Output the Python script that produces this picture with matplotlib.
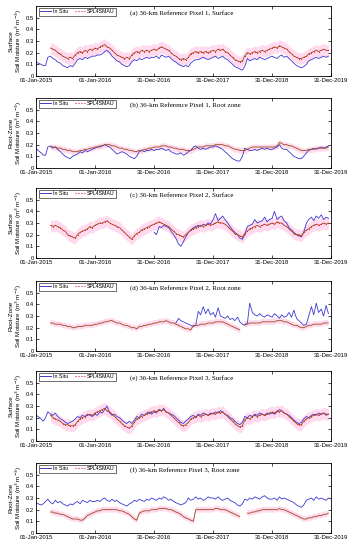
import matplotlib.pyplot as plt
from matplotlib.lines import Line2D
import numpy as np
import pandas as pd

nan = np.nan

# semi-monthly samples (1st and 15th of each month), 2015-2019, values in 0.01 m3/m3
dates = pd.date_range('2015-01-01', periods=120, freq='SMS')

ins1 = [12, 11, 10, 9, 9, 16, 17, 15, 14, 12, 11, 9, 8, 7, 9, 8, 11, 14, 15, 14, 16, 15, 16, 17,
        17, 18, 18, 19, 21, 22, 20, 17, 15, 13, 12, 10, 9, 8, 9, 12, 14, 13, 15, 14, 15, 16, 15, 16,
        16, 17, 15, 18, 17, 16, 17, 15, 13, 12, 10, 9, 8, 9, 8, 11, 13, 14, 14, 15, 16, 15, 14, 15,
        16, 17, 15, 16, 17, 15, 14, 12, 10, 8, 7, 6, 5, 8, 15, 13, 14, 15, 14, 16, 15, 14, 15, 16,
        17, 16, 15, 17, 18, 16, 17, 15, 13, 11, 9, 8, 7, 8, 10, 13, 14, 15, 16, 15, 16, 17, 16, 17]
sm1 = [nan, nan, nan, nan, nan, nan, 24, 23, 22, 20, 19, 17, 16, 15, 16, 15, 18, 20, 21, 20, 22, 21, 23, 22,
       24, 23, 25, 26, 27, 25, 24, 22, 20, 18, 17, 16, 15, 16, 15, 18, 20, 21, 20, 22, 21, 22, 21, 22,
       23, 22, 24, 25, 24, 23, 22, 20, 18, 17, 15, 14, 15, 14, 16, 19, 20, 21, 20, 21, 20, 21, 20, 21,
       22, 21, 23, 22, 23, 21, 20, 18, 16, 14, 13, 12, 13, 17, 20, 19, 20, 21, 20, 21, 22, 21, 22, 23,
       24, 25, 24, 26, 25, 24, 23, 21, 19, 17, 16, 15, 15, 16, 17, 19, 20, 21, 22, 21, 22, 23, 22, 22]

ins2 = [17, 15, 13, 11, 11, 18, 19, 17, 18, 16, 14, 12, 10, 9, 8, 10, 11, 12, 14, 13, 15, 14, 15, 16,
        17, 18, 18, 19, 20, 19, 18, 16, 14, 12, 13, 14, 13, 12, 10, 9, 8, 10, 14, 15, 14, 15, 15, 16,
        15, 16, 16, 17, 16, 15, 16, 14, 13, 12, 12, 13, 11, 12, 14, 15, 18, 19, 17, 16, 17, 16, 17, 18,
        18, 19, 18, 17, 16, 14, 12, 10, 8, 7, 6, 6, 10, 17, 16, 15, 15, 16, 15, 16, 17, 16, 17, 16,
        16, 17, 18, 20, 17, 16, 16, 14, 12, 10, 9, 8, 8, 10, 13, 15, 16, 17, 16, 17, 18, 17, 18, 19]
sm2 = [nan, nan, nan, nan, nan, nan, 18, 18, 18, 17, 17, 16, 16, 15, 15, 14, 14, 14, 15, 15, 16, 16, 17, 17,
       18, 18, 19, 19, 20, 20, 20, 19, 19, 18, 17, 17, 16, 16, 15, 15, 14, 14, 15, 15, 16, 16, 17, 17,
       18, 18, 18, 19, 19, 19, 18, 18, 17, 17, 16, 16, 16, 15, 15, 15, 16, 17, 18, 18, 18, 19, 19, 19,
       19, 20, 20, 20, 20, 19, 19, 18, 17, 16, 16, 15, 15, 15, 16, 17, 18, 18, 18, 18, 18, 18, 18, 18,
       18, 18, 19, 22, 21, 20, 20, 19, 19, 18, 17, 16, 15, 15, 15, 16, 16, 16, 17, 17, 17, 17, 17, 18]

ins3 = [nan] * 48 + [
        22, 20, 27, 26, 28, 27, 26, 23, 20, 17, 12, 10, 14, 18, 22, 24, 26, 27, 28, 27, 29, 28, 30, 29,
        33, 38, 32, 34, 36, 33, 30, 27, 24, 22, 20, 17, 16, 20, 27, 28, 29, 33, 30, 31, 32, 35, 31, 33,
        34, 40, 33, 35, 36, 32, 30, 26, 24, 22, 20, 19, 18, 22, 30, 33, 35, 32, 36, 34, 37, 33, 35, 34]
sm3 = [nan, nan, nan, nan, nan, nan, 28, 27, 28, 27, 26, 24, 23, 20, 19, 18, 17, 20, 22, 23, 24, 25, 27, 26,
       28, 29, 30, 30, 31, 32, 30, 29, 28, 27, 26, 24, 22, 20, 18, 16, 19, 21, 22, 24, 25, 26, 27, 28,
       29, 30, 31, 30, 29, 28, 27, 25, 23, 21, 20, 19, 18, 20, 22, 24, 25, 26, 27, 28, 27, 28, 29, 28,
       29, 30, 31, 30, 30, 29, 27, 25, 23, 21, 20, 19, 18, 21, 23, 25, 26, 27, 28, 27, 28, 29, 28, 29,
       30, 29, 31, 30, 30, 28, 27, 25, 23, 21, 20, 20, 19, 22, 24, 25, 27, 28, 29, 28, 29, 30, 29, 30]

ins4 = [nan] * 57 + [
        24, 28, 26, 25, 24, 23, 22, 21, 22, 34, 31, 38, 32, 36, 31,
        33, 29, 37, 30, 29, 28, 30, 27, 28, 26, 29, 25, 23, 22, 24, 41, 33, 31, 30, 32, 30, 29, 31, 30,
        29, 32, 30, 28, 31, 29, 30, 33, 29, 35, 28, 26, 24, 22, 23, 30, 38, 31, 41, 33, 36, 30, 39, 32]
sm4 = [nan, nan, nan, nan, nan, nan, 24, 24, 23, 23, 23, 22, 22, 21, 21, 20, 20, 21, 21, 21, 22, 22, 22, 22,
       23, 23, 24, 24, 25, 25, 26, 26, 25, 24, 24, 23, 22, 22, 21, 20, 20, 19, 21, 21, 22, 22, 23, 23,
       24, 24, 25, 25, 25, 26, 25, 24, 24, 23, 22, 21, 20, 19, 19, 18, 22, 22, 22, 23, 23, 23, 24, 24,
       24, 25, 25, 25, 25, 24, 23, 22, 21, 20, 19, 18, nan, 23, 23, 24, 24, 24, 24, 24, 25, 25, 25, 25,
       25, 25, 26, 26, 26, 25, 25, 24, 23, 22, 22, 21, 20, 20, 21, 22, 22, 23, 23, 23, 23, 24, 24, 24]

ins5 = [22, 21, 19, 17, 20, 25, 23, 22, 24, 21, 19, 18, 16, 15, 16, 17, 19, 21, 20, 22, 21, 23, 22, 21,
        23, 22, 25, 24, 27, 30, 24, 22, 23, 21, 20, 18, 16, 15, 17, 15, 18, 21, 20, 23, 22, 24, 25, 23,
        25, 24, 27, 26, 28, 25, 24, 23, 22, 20, 18, 16, 15, 17, 19, 21, 22, 20, 23, 22, 24, 23, 22, 24,
        23, 25, 24, 26, 25, 23, 22, 20, 19, 17, 15, 14, 16, 21, 20, 22, 21, 23, 22, 24, 23, 22, 24, 23,
        24, 23, 25, 27, 26, 24, 23, 22, 20, 18, 16, 15, 16, 19, 21, 20, 22, 23, 22, 24, 23, 24, 22, 23]
sm5 = [nan, nan, nan, nan, nan, nan, 22, 20, 19, 18, 17, 15, 14, 14, 13, 13, 14, 17, 19, 20, 21, 22, 23, 22,
       24, 25, 26, 27, 28, 26, 25, 23, 21, 19, 17, 15, 13, 12, 11, 13, 16, 19, 20, 21, 22, 23, 24, 25,
       26, 25, 27, 26, 27, 25, 24, 22, 20, 18, 16, 14, 13, 14, 16, 19, 20, 21, 22, 21, 22, 23, 22, 23,
       24, 23, 25, 24, 25, 23, 21, 19, 17, 15, 13, 12, 13, 18, 20, 19, 21, 22, 21, 22, 23, 22, 23, 24,
       25, 24, 26, 25, 26, 24, 23, 21, 19, 17, 15, 14, 14, 17, 19, 20, 21, 22, 23, 22, 23, 24, 23, 23]

ins6 = [26, 25, 24, 25, 27, 29, 26, 25, 28, 26, 27, 25, 24, 23, 25, 24, 26, 27, 25, 28, 27, 26, 28, 27,
        27, 28, 27, 29, 30, 28, 27, 29, 27, 28, 26, 25, 24, 23, 25, 26, 28, 27, 29, 28, 27, 29, 28, 30,
        29, 28, 30, 29, 31, 30, 28, 29, 27, 26, 25, 24, 25, 26, 30, 28, 29, 31, 29, 30, 28, 29, 31, 30,
        30, 29, 31, 29, 28, 29, 30, 28, 27, 26, 24, 23, 25, 29, 28, 30, 29, 31, 30, 29, 31, 32, 30, 29,
        29, 30, 28, 31, 29, 30, 29, 28, 27, 26, 24, 23, 22, 24, 28, 29, 30, 28, 31, 29, 30, 29, 28, 30]
sm6 = [nan, nan, nan, nan, nan, nan, 18, 18, 17, 17, 16, 16, 15, 14, 13, 12, 12, 12, 11, 11, 13, 15, 16, 17,
       18, 19, 19, 20, 20, 20, 20, 20, 20, 20, 19, 19, 18, 17, 16, 14, 12, 11, 17, 18, 19, 19, 19, 20,
       20, 20, 21, 21, 21, 21, 20, 20, 19, 18, 17, 16, 14, 13, 12, 11, 10, 20, 20, 20, 20, 20, 20, 20,
       20, 21, 21, 20, 20, 20, 19, 18, 17, 16, 15, 14, nan, nan, 17, 17, 18, 18, 19, 19, 20, 20, 20, 20,
       20, 20, 20, 21, 20, 20, 19, 18, 17, 16, 15, 14, 13, 12, 12, 13, 13, 14, 14, 15, 15, 16, 16, 17]

titles = ['(a) 36-km Reference Pixel 1, Surface', '(b) 36-km Reference Pixel 1, Root zone',
          '(c) 36-km Reference Pixel 2, Surface', '(d) 36-km Reference Pixel 2, Root zone',
          '(e) 36-km Reference Pixel 3, Surface', '(f) 36-km Reference Pixel 3, Root zone']
layers = ['Surface', 'Root-Zone'] * 3
insitu_all = [ins1, ins2, ins3, ins4, ins5, ins6]
smap_all = [sm1, sm2, sm3, sm4, sm5, sm6]
band_half = [0.05, 0.025, 0.05, 0.025, 0.05, 0.025]

tick_dates = pd.to_datetime(['2015-01-01', '2016-01-01', '2016-12-31', '2017-12-31', '2018-12-31', '2019-12-31'])
tick_labels = ['01-Jan-2015', '01-Jan-2016', '31-Dec-2016', '31-Dec-2017', '31-Dec-2018', '31-Dec-2019']

c_insitu = '#3a3ad0'
c_dot = '#e8202a'
c_line = '#9a4a1c'
c_band = '#ffd9ee'

plt.rcParams['font.family'] = ['Liberation Sans', 'DejaVu Sans']
fig = plt.figure(figsize=(3.51, 5.5), dpi=100)

bottoms_px = [76, 168, 258, 351, 441, 533]
h_px = 70
for i in range(6):
    ax = fig.add_axes([36 / 351, 1 - bottoms_px[i] / 550, 295 / 351, h_px / 550])
    ins = np.array(insitu_all[i], dtype=float) / 100
    sm = np.array(smap_all[i], dtype=float) / 100
    ax.fill_between(dates, sm - band_half[i], sm + band_half[i], color=c_band, lw=0, zorder=1)
    ax.plot(dates, ins, color=c_insitu, lw=0.6, zorder=2)
    ax.plot(dates, sm, color=c_line, lw=0.6, zorder=3)
    if i % 2 == 0:
        ax.plot(dates, sm, ls='none', marker='.', ms=1.6, color=c_dot, mew=0, zorder=4)

    ax.set_xlim(pd.Timestamp('2015-01-01'), pd.Timestamp('2019-12-31'))
    ax.set_ylim(0, 0.6)
    ax.set_yticks(np.arange(0, 0.51, 0.1))
    ax.set_yticklabels(['0', '0.1', '0.2', '0.3', '0.4', '0.5'])
    ax.set_xticks(tick_dates)
    ax.set_xticklabels(tick_labels)
    ax.tick_params(direction='in', length=2, width=0.5, labelsize=4.2, pad=1.5,
                   top=True, right=True)
    for s in ax.spines.values():
        s.set_linewidth(0.6)

    ax.set_ylabel('Soil Moisture (m$^3$ m$^{-3}$)', fontsize=4.4, labelpad=1.5)
    ax.text(-0.085, 0.5, layers[i], transform=ax.transAxes, rotation=90,
            ha='center', va='center', fontsize=4.6)
    ax.text(0.32, 0.9, titles[i], transform=ax.transAxes, fontsize=5,
            family='Liberation Serif', va='center', ha='left')

    handles = [Line2D([0], [0], color=c_insitu, lw=0.7, label='In Situ'),
               Line2D([0], [0], color=c_dot, ls=':', lw=0.8, label='SPL4SMAU')]
    leg = ax.legend(handles=handles, loc='upper left', ncol=2, fontsize=3.8,
                    frameon=True, fancybox=False, edgecolor='black', borderpad=0.25,
                    handlelength=2.0, columnspacing=1.2, handletextpad=0.4,
                    borderaxespad=0.3, bbox_to_anchor=(0.005, 0.995))
    leg.get_frame().set_linewidth(0.5)

fig.savefig('out.png', dpi=100)
